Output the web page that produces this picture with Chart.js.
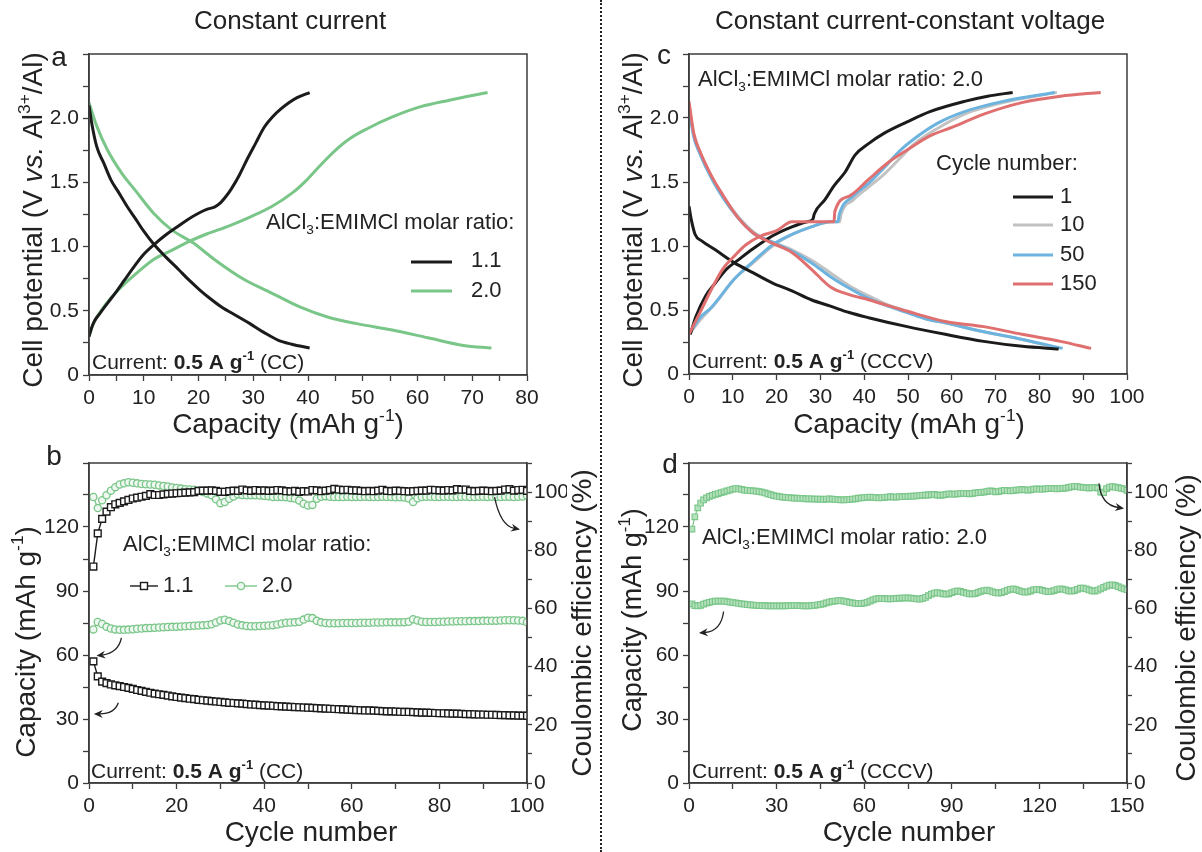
<!DOCTYPE html>
<html><head><meta charset="utf-8">
<script src="https://cdn.jsdelivr.net/npm/chart.js@4.4.1/dist/chart.umd.min.js"></script>
<style>
html,body{margin:0;padding:0;background:#fff;}
#wrap{position:relative;width:1202px;height:852px;overflow:hidden;background:#fff;}
canvas{position:absolute;}
#divider{position:absolute;left:600px;top:0;height:852px;border-left:2px dotted #222;}
</style></head>
<body><div id="wrap">
<canvas id="cA" width="600" height="440" style="left:0;top:0"></canvas>
<canvas id="cB" width="600" height="412" style="left:0;top:440px"></canvas>
<canvas id="cC" width="602" height="440" style="left:600px;top:0"></canvas>
<canvas id="cD" width="602" height="412" style="left:600px;top:440px"></canvas>
<div id="divider"></div>
</div>
<script>
// ---------------- DATA ----------------
// Panel a: galvanostatic curves (capacity mAh/g, potential V)
const aBlackChargeCap = [0,0.5,1,2,3.4,5,6.5,8,10,12,14,16,18,20,21.5,23,24,25,26,27.5,29,30.5,32,33.5,35,36.5,38,40.3];
const aBlackChargeV   = [0.30,0.37,0.42,0.48,0.56,0.65,0.74,0.83,0.94,1.02,1.09,1.15,1.21,1.26,1.29,1.31,1.34,1.39,1.45,1.56,1.69,1.81,1.93,2.01,2.07,2.12,2.16,2.20];
const aBlackDischCap  = [0,0.5,1.4,2.7,4,5.3,7,8.6,10,11.8,14,16.4,18,20.3,22,24.2,27,29.4,32,34.6,37,40.3];
const aBlackDischV    = [2.10,1.96,1.78,1.65,1.52,1.43,1.31,1.21,1.12,1.02,0.92,0.82,0.75,0.66,0.60,0.53,0.46,0.40,0.33,0.27,0.24,0.21];
const aGreenChargeCap = [0,0.8,2.7,5.3,8.6,11.8,15.1,18.3,21.6,25.5,29.4,33.3,37.2,39.8,42.4,45,47.6,50.9,55.4,60.6,65.8,72.8];
const aGreenChargeV   = [0.30,0.40,0.53,0.66,0.79,0.90,0.97,1.04,1.10,1.16,1.23,1.31,1.42,1.52,1.64,1.75,1.84,1.92,2.01,2.09,2.14,2.20];
const aGreenDischCap  = [0,1.4,3.4,6,8.6,11.8,15.1,19,22.9,28.1,33.3,38.5,43.7,48.9,55.4,61.9,68.4,73.5];
const aGreenDischV    = [2.12,1.94,1.75,1.57,1.43,1.26,1.13,1.03,0.90,0.75,0.64,0.53,0.45,0.40,0.35,0.29,0.23,0.21];

// Panel c: CCCV curves, cycles 1, 10, 50, 150
const c1ChargeCap   = [0.3,1.6,3.8,6,8.6,11.2,14.7,19.1,23.5,27,28.3,28.6,31,33.1,35.7,37.9,41,44.5,49.8,55,62.9,68.2,73.9];
const c1ChargeV     = [0.31,0.45,0.61,0.71,0.82,0.89,0.98,1.08,1.15,1.19,1.21,1.25,1.36,1.47,1.58,1.71,1.80,1.88,1.97,2.05,2.13,2.17,2.20];
const c1DischCap    = [0,0.5,1.4,2.9,6,10.3,14.7,19.1,23.5,27.9,32.3,36.6,41,49.8,58.5,67.3,76.1,84.4];
const c1DischV      = [1.31,1.21,1.09,1.04,0.97,0.87,0.79,0.71,0.65,0.58,0.53,0.48,0.44,0.37,0.31,0.255,0.216,0.195];
const c10ChargeCap  = [0,2.5,6,10.3,14.7,19.1,23.5,27.9,32.3,34.4,34.7,37.5,41,44.5,48,51.5,56.8,62.9,71.7,84];
const c10ChargeV    = [0.31,0.42,0.55,0.74,0.87,1.00,1.09,1.15,1.19,1.19,1.245,1.36,1.46,1.56,1.68,1.80,1.92,2.03,2.12,2.20];
const c10DischCap   = [0,1.1,2.5,5.1,7.7,11.2,14.7,19.1,23.5,27.9,32.3,36.6,41,45.4,49.8,54.2,58.5,67.3,76.1,84.4];
const c10DischV     = [2.10,1.86,1.73,1.54,1.39,1.23,1.11,1.03,0.97,0.89,0.79,0.69,0.61,0.54,0.49,0.43,0.40,0.33,0.27,0.20];
const c50ChargeCap  = [0,2.5,5.1,10.3,14.7,19.1,23.5,27.9,32.3,34,34.3,37.5,41,44.5,48,51.5,56.8,62.9,71.7,83.5];
const c50ChargeV    = [0.31,0.44,0.52,0.74,0.88,1.01,1.09,1.15,1.19,1.19,1.245,1.39,1.49,1.61,1.74,1.84,1.96,2.05,2.13,2.20];
const c50DischCap   = [0,1.1,2.5,5.1,7.7,11.2,14.7,19.1,23.5,27.9,32.3,36.6,41,45.4,49.8,54.2,58.5,67.3,76.1,85.3];
const c50DischV     = [2.08,1.85,1.72,1.53,1.38,1.22,1.10,1.03,0.96,0.87,0.76,0.67,0.59,0.53,0.48,0.43,0.40,0.33,0.27,0.20];
const c150ChargeCap = [0,2.5,5.1,7.7,10.3,13,16.5,20,23.5,33.1,33.3,36.6,41,45.4,49.8,55,60.3,67.3,76,84.8,94];
const c150ChargeV   = [0.31,0.48,0.66,0.82,0.92,1.01,1.08,1.12,1.19,1.19,1.27,1.39,1.52,1.65,1.75,1.86,1.93,2.03,2.12,2.17,2.20];
const c150DischCap  = [0,1.1,2.5,5.1,7.7,11.2,14.7,19.1,23.5,27.9,32.3,36.6,41,49.8,58.5,67.3,76,84.8,91.8];
const c150DischV    = [2.13,1.88,1.74,1.55,1.40,1.22,1.10,1.02,0.95,0.82,0.68,0.62,0.58,0.49,0.41,0.37,0.31,0.255,0.20];

// Panel b: cycling at 0.5 A/g (CC), cycles 1..100
const cyclesB = Array.from({length: 100}, (_, i) => i + 1);
const bCap11 = [57.0,50.0,47.5,46.8,46.2,45.8,45.4,45.0,44.6,44.1,43.6,43.2,42.7,42.3,41.9,41.6,41.3,41.0,40.6,40.3,
40.0,39.8,39.5,39.3,39.0,38.8,38.6,38.4,38.2,38.0,37.8,37.6,37.5,37.3,37.2,37.0,36.8,36.7,36.5,36.4,
36.3,36.2,36.0,35.9,35.8,35.7,35.6,35.5,35.4,35.3,35.2,35.1,35.0,34.9,34.8,34.7,34.6,34.5,34.4,34.3,
34.2,34.1,34.0,34.0,33.9,33.8,33.7,33.6,33.6,33.5,33.4,33.3,33.3,33.2,33.1,33.0,33.0,32.9,32.8,32.7,
32.7,32.6,32.5,32.5,32.4,32.3,32.3,32.2,32.1,32.1,32.0,32.0,31.9,31.8,31.8,31.7,31.7,31.6,31.6,31.5];
const bCE11 = [74.4,85.8,90.8,93.3,94.8,95.8,96.3,96.8,97.3,97.8,98.1,98.4,98.7,99.3,99.0,99.0,99.2,99.4,99.5,99.6,
99.7,99.8,99.9,100.0,100.4,100.5,100.5,100.6,100.4,100.1,100.1,100.3,100.5,100.4,100.9,100.6,100.4,100.7,100.5,100.6,
100.4,100.5,100.7,100.6,100.3,100.2,100.4,100.1,100.3,100.2,100.7,100.6,100.3,100.5,100.7,101.1,100.9,100.7,100.8,100.6,
100.6,100.4,100.3,100.4,100.3,100.5,100.8,100.4,100.3,100.5,100.4,100.3,100.2,100.3,100.4,100.5,100.5,100.8,100.7,100.6,
100.5,100.7,100.6,101.0,100.8,100.9,100.4,100.3,100.4,100.5,100.4,100.3,100.4,100.5,100.9,101.0,100.5,100.7,100.8,100.4];
const bCap20 = [72.0,75.5,74.5,73.2,72.4,72.0,71.8,71.8,71.9,72.1,72.3,72.4,72.6,72.7,72.8,72.9,73.0,73.1,73.2,73.3,
73.4,73.5,73.6,73.7,73.8,73.9,74.1,74.4,75.2,76.2,76.5,75.9,75.1,74.3,73.9,73.6,73.5,73.5,73.6,73.7,
73.8,74.0,74.3,74.8,75.1,75.2,75.3,75.6,76.6,77.5,77.3,76.0,75.3,75.0,74.9,74.9,74.9,75.0,75.0,75.0,
75.0,75.1,75.1,75.1,75.2,75.2,75.2,75.3,75.3,75.3,75.3,75.4,75.6,76.8,76.2,75.6,75.5,75.5,75.5,75.6,
75.6,75.7,75.7,75.8,75.8,75.8,75.9,75.9,75.9,76.0,76.0,76.1,76.1,76.2,76.3,76.3,76.3,76.2,76.0,75.4];
const bCE20 = [98.3,94.5,97.2,98.9,100.5,101.7,102.6,103.0,103.4,103.2,103.0,102.8,102.7,102.6,102.5,102.3,102.1,101.9,101.6,101.4,
101.2,101.0,100.9,100.8,100.5,100.0,99.5,98.9,97.5,96.2,96.6,97.7,98.5,99.2,99.0,98.9,98.9,98.9,98.8,98.7,
98.6,98.3,98.3,98.3,98.2,98.0,97.8,97.1,96.0,95.4,95.6,97.7,98.4,98.6,98.4,98.3,98.3,98.3,98.4,98.3,
98.3,98.3,98.4,98.3,98.3,98.3,98.4,98.3,98.3,98.2,98.2,98.1,97.8,96.6,97.9,98.3,98.4,98.4,98.3,98.3,
98.4,98.4,98.3,98.3,98.4,98.4,98.3,98.3,98.4,98.4,98.3,98.4,98.3,98.3,98.4,98.4,98.3,98.4,98.5,98.8];

// Panel d: cycling at 0.5 A/g (CCCV), cycles 1..150
const cyclesD = Array.from({length: 150}, (_, i) => i + 1);
const dCap = [84.0,83.2,83.0,83.3,83.8,84.3,84.7,85.0,85.2,85.3,85.3,85.2,85.0,84.8,84.6,84.4,84.2,84.0,83.8,83.6,
83.5,83.4,83.3,83.2,83.1,83.1,83.0,83.0,83.0,83.0,83.0,83.0,83.0,83.1,83.1,83.2,83.2,83.1,83.0,83.0,
83.0,83.1,83.3,83.5,83.7,84.0,84.4,84.8,85.1,85.3,85.5,85.5,85.3,85.0,84.7,84.4,84.2,84.1,84.1,84.3,
84.7,85.2,85.8,86.3,86.5,86.5,86.4,86.3,86.3,86.4,86.5,86.6,86.7,86.8,86.8,86.7,86.5,86.3,86.2,86.5,
87.0,87.8,88.5,89.0,89.2,89.0,88.7,88.5,88.7,89.2,89.7,90.0,89.8,89.4,89.0,88.7,88.6,88.8,89.3,89.8,
90.2,90.4,90.1,89.6,89.2,89.0,89.2,89.7,90.3,90.8,91.0,90.7,90.2,89.7,89.5,89.6,90.0,90.5,90.8,90.7,
90.3,89.9,89.7,89.8,90.2,90.7,91.0,90.9,90.5,90.1,89.9,90.2,90.8,91.3,91.4,91.0,90.5,90.1,90.0,90.4,
91.0,91.7,92.3,92.7,92.9,92.6,92.0,91.5,91.0,90.6];
const dCE = [87.3,91.5,94.6,96.2,97.3,98.0,98.5,98.9,99.2,99.5,99.8,100.1,100.4,100.7,101.0,101.2,101.1,100.9,100.7,100.6,
100.5,100.4,100.3,100.2,100.0,99.7,99.4,99.1,98.8,98.6,98.4,98.3,98.2,98.1,98.0,97.9,97.9,97.8,97.8,97.7,
97.7,97.7,97.6,97.6,97.6,97.5,97.6,97.7,97.6,97.5,97.4,97.3,97.3,97.4,97.5,97.6,97.7,97.9,98.0,98.1,
98.2,98.3,98.2,98.1,98.0,98.1,98.2,98.3,98.4,98.3,98.3,98.4,98.4,98.5,98.5,98.6,98.6,98.7,98.8,98.9,
99.0,99.0,99.1,99.2,99.0,98.9,99.0,99.2,99.4,99.3,99.3,99.4,99.5,99.6,99.5,99.4,99.5,99.7,99.8,99.9,
100.0,100.2,100.4,100.3,100.1,100.2,100.4,100.6,100.5,100.4,100.5,100.7,100.8,100.9,100.8,100.7,100.8,101.0,101.1,101.0,
101.0,101.1,101.2,101.3,101.2,101.1,101.2,101.3,101.4,101.6,101.8,102.0,101.9,101.7,101.6,101.5,101.4,101.5,101.6,101.4,
100.0,99.8,101.2,101.7,101.9,101.7,101.5,101.3,101.1,100.6];

// ---------------- STYLE ----------------
const FONT = 'Arial, "Liberation Sans", sans-serif';
const INK = '#222';
const AXIS = '#3c3c3c';
const C_BLACK = '#1b1b1b', C_GREEN = '#7ac689', C_GRAY = '#c2c2c2', C_BLUE = '#6cb4df', C_RED = '#e07070';

const pts = (xs, ys) => xs.map((x, i) => ({x, y: ys[i]}));

function rich(ctx, segs, x, y, o) {
  const size = o.size;
  ctx.save();
  ctx.translate(x, y);
  if (o.rot) ctx.rotate(o.rot);
  ctx.fillStyle = o.color || INK;
  ctx.textBaseline = 'middle';
  ctx.textAlign = 'left';
  const items = segs.map(s => {
    const sz = (s.sup || s.sub) ? size * 0.62 : size;
    const font = (s.i ? 'italic ' : '') + (s.b ? 'bold ' : '') + sz + 'px ' + FONT;
    ctx.font = font;
    return {t: s.t, font, w: ctx.measureText(s.t).width, dy: s.sup ? -size * 0.33 : (s.sub ? size * 0.32 : 0)};
  });
  const total = items.reduce((a, b) => a + b.w, 0);
  let cx = o.align === 'center' ? -total / 2 : 0;
  items.forEach(it => { ctx.font = it.font; ctx.fillText(it.t, cx, it.dy); cx += it.w; });
  ctx.restore();
}
const S = (t, extra) => Object.assign({t}, extra || {});
const molar = (tail) => [S('AlCl'), S('3', {sub: 1}), S(':EMIMCl molar ratio:' + (tail || ''))];
const current = (mode) => [S('Current: '), S('0.5 A g', {b: 1}), S('-1', {b: 1, sup: 1}), S(' (' + mode + ')')];
const capTitle = [S('Capacity (mAh g'), S('-1', {sup: 1}), S(')')];
const potTitle = [S('Cell potential (V '), S('vs.', {i: 1}), S(' Al'), S('3+', {sup: 1}), S('/Al)')];

function arrow(ctx, chart, yKey, a) {
  const xs = chart.scales.x, ys = chart.scales[yKey];
  const p0 = [xs.getPixelForValue(a[0][0]), ys.getPixelForValue(a[0][1])];
  const pc = [xs.getPixelForValue(a[1][0]), ys.getPixelForValue(a[1][1])];
  const p1 = [xs.getPixelForValue(a[2][0]), ys.getPixelForValue(a[2][1])];
  ctx.save();
  ctx.strokeStyle = '#222'; ctx.fillStyle = '#222'; ctx.lineWidth = 1.3;
  const ang = Math.atan2(p1[1] - pc[1], p1[0] - pc[0]);
  const back = [p1[0] - 6 * Math.cos(ang), p1[1] - 6 * Math.sin(ang)];
  ctx.beginPath(); ctx.moveTo(p0[0], p0[1]); ctx.quadraticCurveTo(pc[0], pc[1], back[0], back[1]); ctx.stroke();
  ctx.beginPath();
  ctx.moveTo(p1[0], p1[1]);
  ctx.lineTo(p1[0] - 9 * Math.cos(ang) + 4 * Math.sin(ang), p1[1] - 9 * Math.sin(ang) - 4 * Math.cos(ang));
  ctx.lineTo(p1[0] - 6 * Math.cos(ang), p1[1] - 6 * Math.sin(ang));
  ctx.lineTo(p1[0] - 9 * Math.cos(ang) - 4 * Math.sin(ang), p1[1] - 9 * Math.sin(ang) + 4 * Math.cos(ang));
  ctx.closePath(); ctx.fill();
  ctx.restore();
}

function overlay(offX, offY, drawData, drawText) {
  return {
    id: 'ov' + offX + '_' + offY,
    afterDraw(chart) {
      const ctx = chart.ctx, a = chart.chartArea;
      ctx.save();
      ctx.strokeStyle = AXIS; ctx.lineWidth = 1.5;
      ctx.strokeRect(a.left, a.top, a.right - a.left, a.bottom - a.top);
      if (drawData) drawData(ctx, chart);
      ctx.translate(-offX, -offY);
      drawText(ctx, chart);
      ctx.restore();
    }
  };
}

function axis(o) {
  return {
    type: 'linear', position: o.pos, min: o.min, max: o.max,
    afterFit: s => { if (o.w != null) s.width = o.w; if (o.h != null) s.height = o.h; },
    ticks: {
      stepSize: o.step, autoSkip: false, maxRotation: 0, minRotation: 0, padding: o.pad != null ? o.pad : 4,
      color: INK, font: {family: FONT, size: 21},
      callback: v => {
        if (o.hideMax && Math.abs(v - o.max) < 1e-9) return '';
        const r = v / o.label;
        return Math.abs(r - Math.round(r)) < 1e-6 ? (o.fmt ? o.fmt(v) : String(Math.round(v))) : '';
      }
    },
    grid: {drawOnChartArea: false, drawTicks: true, tickLength: o.tl || 6, color: AXIS, tickWidth: 1.3},
    border: {display: true, color: AXIS, width: 1.5},
    title: {display: false}
  };
}
const vfmt = v => (Math.abs(v) < 1e-9 ? '0' : v.toFixed(1));

function baseOpts(pad, scales) {
  return {
    responsive: false, animation: false, devicePixelRatio: 1, events: [],
    layout: {padding: pad},
    plugins: {legend: {display: false}, tooltip: {enabled: false}},
    elements: {point: {radius: 0}},
    scales
  };
}
const curve = (xs, ys, color, order) => ({data: pts(xs, ys), showLine: true, borderColor: color, borderWidth: 3,
  pointRadius: 0, fill: false, cubicInterpolationMode: 'monotone', order: order || 0});

// ---------------- PANEL A ----------------
new Chart(document.getElementById('cA'), {
  type: 'scatter',
  data: {datasets: [
    curve(aBlackChargeCap, aBlackChargeV, C_BLACK),
    curve(aBlackDischCap, aBlackDischV, C_BLACK),
    curve(aGreenChargeCap, aGreenChargeV, C_GREEN),
    curve(aGreenDischCap, aGreenDischV, C_GREEN)
  ]},
  options: baseOpts({left: 0, right: 73, top: 54, bottom: 0}, {
    x: axis({pos: 'bottom', min: 0, max: 80, step: 5, label: 10, h: 65, pad: 5}),
    y: axis({pos: 'left', min: 0, max: 2.5, step: 0.25, label: 0.5, fmt: vfmt, w: 89, pad: 4, hideMax: true})
  }),
  plugins: [overlay(0, 0, null, ctx => {
    rich(ctx, [S('Constant current')], 290, 22, {size: 26, align: 'center'});
    rich(ctx, [S('a')], 59, 58, {size: 28, align: 'center'});
    rich(ctx, potTitle, 34, 220, {size: 28, align: 'center', rot: -Math.PI / 2});
    rich(ctx, capTitle, 288, 425, {size: 28, align: 'center'});
    rich(ctx, molar(), 266, 223, {size: 22});
    ctx.save(); ctx.lineWidth = 3;
    ctx.strokeStyle = C_BLACK; ctx.beginPath(); ctx.moveTo(411, 262); ctx.lineTo(452, 262); ctx.stroke();
    ctx.strokeStyle = C_GREEN; ctx.beginPath(); ctx.moveTo(411, 291); ctx.lineTo(452, 291); ctx.stroke();
    ctx.restore();
    rich(ctx, [S('1.1')], 471, 261, {size: 22});
    rich(ctx, [S('2.0')], 471, 291, {size: 22});
    rich(ctx, current('CC'), 92, 363, {size: 21});
  })]
});

// ---------------- PANEL C ----------------
new Chart(document.getElementById('cC'), {
  type: 'scatter',
  data: {datasets: [
    curve(c150ChargeCap, c150ChargeV, C_RED, 0),
    curve(c150DischCap, c150DischV, C_RED, 0),
    curve(c1ChargeCap, c1ChargeV, C_BLACK, 1),
    curve(c1DischCap, c1DischV, C_BLACK, 1),
    curve(c50ChargeCap, c50ChargeV, C_BLUE, 2),
    curve(c50DischCap, c50DischV, C_BLUE, 2),
    curve(c10ChargeCap, c10ChargeV, C_GRAY, 3),
    curve(c10DischCap, c10DischV, C_GRAY, 3)
  ]},
  options: baseOpts({left: 0, right: 75, top: 54, bottom: 0}, {
    x: axis({pos: 'bottom', min: 0, max: 100, step: 10, label: 10, h: 66, pad: 5}),
    y: axis({pos: 'left', min: 0, max: 2.5, step: 0.25, label: 0.5, fmt: vfmt, w: 89, pad: 4, hideMax: true})
  }),
  plugins: [overlay(600, 0, null, ctx => {
    rich(ctx, [S('Constant current-constant voltage')], 910, 22, {size: 26, align: 'center'});
    rich(ctx, [S('c')], 664, 56, {size: 28, align: 'center'});
    rich(ctx, potTitle, 634, 220, {size: 28, align: 'center', rot: -Math.PI / 2});
    rich(ctx, capTitle, 909, 425, {size: 28, align: 'center'});
    rich(ctx, molar(' 2.0'), 698, 80, {size: 22});
    rich(ctx, [S('Cycle number:')], 936, 164, {size: 22});
    const items = [['1', C_BLACK, 197], ['10', C_GRAY, 225], ['50', C_BLUE, 255], ['150', C_RED, 284]];
    items.forEach(([t, c, y]) => {
      ctx.save(); ctx.lineWidth = 3; ctx.strokeStyle = c;
      ctx.beginPath(); ctx.moveTo(1013, y); ctx.lineTo(1053, y); ctx.stroke(); ctx.restore();
      rich(ctx, [S(t)], 1060, y, {size: 22});
    });
    rich(ctx, current('CCCV'), 692, 362, {size: 21});
  })]
});

// ---------------- PANEL B ----------------
const sq = (color, yAxisID, vals, xs) => ({
  type: 'line', data: pts(xs, vals), yAxisID, borderColor: color, borderWidth: 1.4, tension: 0,
  pointStyle: 'rect', pointRadius: 4.8, pointBorderWidth: 1.4, pointBorderColor: color, pointBackgroundColor: '#fff'
});
const ci = (color, yAxisID, vals, xs) => ({
  type: 'line', data: pts(xs, vals), yAxisID, borderColor: color, borderWidth: 1.3, tension: 0,
  pointStyle: 'circle', pointRadius: 3.6, pointBorderWidth: 1.3, pointBorderColor: color, pointBackgroundColor: '#eef8f0'
});
new Chart(document.getElementById('cB'), {
  type: 'line',
  data: {datasets: [
    sq(C_BLACK, 'y', bCap11, cyclesB),
    sq(C_BLACK, 'y2', bCE11, cyclesB),
    ci(C_GREEN, 'y', bCap20, cyclesB),
    ci(C_GREEN, 'y2', bCE20, cyclesB)
  ]},
  options: baseOpts({left: 0, right: 33, top: 23, bottom: 0}, {
    x: axis({pos: 'bottom', min: 0, max: 100, step: 10, label: 20, h: 69, pad: 5}),
    y: axis({pos: 'left', min: 0, max: 150, step: 15, label: 30, w: 89, pad: 4, hideMax: true}),
    y2: axis({pos: 'right', min: 0, max: 110, step: 10, label: 20, w: 40, pad: 2, tl: 5})
  }),
  plugins: [overlay(0, 440, (ctx, chart) => {
    arrow(ctx, chart, 'y', [[7.4, 68], [6.7, 61], [1.7, 59.6]]);
    arrow(ctx, chart, 'y', [[6.7, 37.6], [5.8, 32.4], [1.1, 32.4]]);
    arrow(ctx, chart, 'y2', [[92.6, 98.3], [93.9, 88.6], [98.4, 87.1]]);
  }, ctx => {
    rich(ctx, [S('b')], 54, 457, {size: 28, align: 'center'});
    rich(ctx, capTitle, 27, 642, {size: 28, align: 'center', rot: -Math.PI / 2});
    rich(ctx, [S('Coulombic efficiency (%)')], 583, 623, {size: 28, align: 'center', rot: -Math.PI / 2});
    rich(ctx, [S('Cycle number')], 311, 833, {size: 28, align: 'center'});
    rich(ctx, molar(), 123, 545, {size: 22});
    ctx.save(); ctx.lineWidth = 1.4;
    ctx.strokeStyle = C_BLACK; ctx.beginPath(); ctx.moveTo(130, 586); ctx.lineTo(158, 586); ctx.stroke();
    ctx.fillStyle = '#fff'; ctx.fillRect(140.5, 582.5, 7, 7); ctx.strokeRect(140.5, 582.5, 7, 7);
    ctx.strokeStyle = C_GREEN; ctx.beginPath(); ctx.moveTo(225, 586); ctx.lineTo(257, 586); ctx.stroke();
    ctx.fillStyle = '#eef8f0'; ctx.beginPath(); ctx.arc(241, 586, 3.6, 0, Math.PI * 2); ctx.fill(); ctx.stroke();
    ctx.restore();
    rich(ctx, [S('1.1')], 163, 586, {size: 22});
    rich(ctx, [S('2.0')], 262, 586, {size: 22});
    rich(ctx, current('CC'), 91, 772, {size: 21});
  })]
});

// ---------------- PANEL D ----------------
const dsq = (vals, yAxisID) => ({
  type: 'line', data: pts(cyclesD, vals), yAxisID, borderColor: C_GREEN, borderWidth: 1.2, tension: 0,
  pointStyle: 'rect', pointRadius: 4, pointBorderWidth: 1.1, pointBorderColor: C_GREEN, pointBackgroundColor: '#b6e1bd'
});
new Chart(document.getElementById('cD'), {
  type: 'line',
  data: {datasets: [dsq(dCap, 'y'), dsq(dCE, 'y2')]},
  options: baseOpts({left: 0, right: 35, top: 23, bottom: 0}, {
    x: axis({pos: 'bottom', min: 0, max: 150, step: 15, label: 30, h: 69, pad: 5}),
    y: axis({pos: 'left', min: 0, max: 150, step: 15, label: 30, w: 89, pad: 4, hideMax: true}),
    y2: axis({pos: 'right', min: 0, max: 110, step: 10, label: 20, w: 40, pad: 2, tl: 5})
  }),
  plugins: [overlay(600, 440, (ctx, chart) => {
    arrow(ctx, chart, 'y', [[11.85, 80.4], [11.0, 71.2], [3.4, 70.3]]);
    arrow(ctx, chart, 'y2', [[140.4, 103], [141.1, 95.6], [149, 94.4]]);
  }, ctx => {
    rich(ctx, [S('d')], 670, 465, {size: 28, align: 'center'});
    rich(ctx, capTitle, 634, 620, {size: 27, align: 'center', rot: -Math.PI / 2});
    rich(ctx, [S('Coulombic efficiency (%)')], 1187, 628, {size: 28, align: 'center', rot: -Math.PI / 2});
    rich(ctx, [S('Cycle number')], 909, 833, {size: 28, align: 'center'});
    rich(ctx, molar(' 2.0'), 702, 538, {size: 22});
    rich(ctx, current('CCCV'), 692, 772, {size: 21});
  })]
});
</script>
</body></html>
